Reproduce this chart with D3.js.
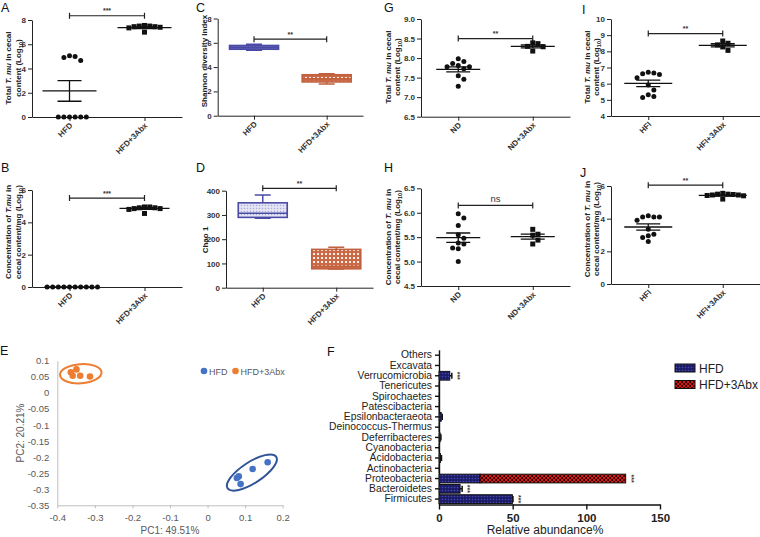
<!DOCTYPE html>
<html><head><meta charset="utf-8">
<script src="https://cdn.jsdelivr.net/npm/d3@7"></script>
<style>body{margin:0;background:#fff}svg{display:block}</style>
</head><body><script>
// ================= DATA =================
const grpHFD = ["HFD", "HFD+3Abx"];
const grpND  = ["ND", "ND+3Abx"];
const grpHFI = ["HFI", "HFI+3Abx"];

// A: total T. mu (HFD vs HFD+3Abx)
const aHFD  = [5.05, 5.0, 4.9, 4.65, 0, 0, 0, 0, 0, 0];
const aAbx  = [7.55, 7.5, 7.5, 7.45, 7.45, 7.4, 7.35, 7.0];
const aMean = [2.15, 7.37], aSem = [0.85, 0.07];
const aTicks = [0, 2, 4, 6, 8];

// B: concentration of T. mu
const bHFD  = [0, 0, 0, 0, 0, 0, 0, 0, 0, 0];
const bAbx  = [4.95, 4.95, 4.9, 4.9, 4.85, 4.85, 4.8, 4.55];
const bMean = [0, 4.86], bSem = [0, 0.05];
const bTicks = [0, 2, 4, 6];

// C: Shannon diversity index  [min, q1, median, q3, max]
const cBox = [[5.38, 5.47, 5.63, 5.78, 5.88], [2.6, 2.78, 3.05, 3.37, 3.45]];
const cTicks = [0, 2, 4, 6, 8];

// D: Chao 1
const dBox = [[286, 290, 307, 350, 382], [77, 78, 88, 158, 167]];
const dTicks = [0, 100, 200, 300, 400];

// G: total T. mu (ND vs ND+3Abx)
const gND   = [7.98, 7.91, 7.86, 7.81, 7.78, 7.78, 7.73, 7.55, 7.46, 7.28];
const gAbx  = [8.39, 8.37, 8.30, 8.29, 8.18];
const gMean = [7.71, 8.30], gSem = [0.065, 0.04];
const gTicks = [6.5, 7.0, 7.5, 8.0, 8.5, 9.0];

// H: concentration (ND)
const hND   = [5.98, 5.89, 5.74, 5.55, 5.48, 5.38, 5.36, 5.28, 5.26, 5.0];
const hAbx  = [5.66, 5.56, 5.54, 5.44, 5.36];
const hMean = [5.49, 5.51], hSem = [0.095, 0.05];
const hTicks = [4.5, 5.0, 5.5, 6.0, 6.5];

// I: total T. mu (HFI)
const iHFI  = [6.70, 6.66, 6.62, 6.56, 6.37, 5.92, 5.61, 5.32, 5.20, 5.15];
const iAbx  = [8.64, 8.5, 8.4, 8.27, 8.06];
const iMean = [6.02, 8.37], iSem = [0.2, 0.1];
const iTicks = [4, 5, 6, 7, 8, 9, 10];

// J: concentration (HFI)
const jHFI  = [4.18, 4.1, 4.1, 4.1, 3.9, 3.35, 3.05, 2.95, 2.85, 2.6];
const jAbx  = [5.55, 5.5, 5.5, 5.48, 5.45, 5.45, 5.42, 5.4, 5.2];
const jMean = [3.49, 5.42], jSem = [0.19, 0.04];
const jTicks = [0, 2, 4, 6];

// E: PCoA
const pcaHFD = [[0.078, -0.265], [0.083, -0.26], [0.088, -0.284], [0.12, -0.237], [0.16, -0.216]];
const pcaAbx = [[-0.364, 0.064], [-0.359, 0.053], [-0.349, 0.073], [-0.339, 0.053], [-0.313, 0.051]];
const pcaCenters = [[-0.3375, 0.0595], [0.118, -0.248]]; // Abx, HFD cluster centres
const eXTicks = [-0.4, -0.3, -0.2, -0.1, 0, 0.1, 0.2];
const eYTicks = [0.1, 0.05, 0, -0.05, -0.1, -0.15, -0.2, -0.25, -0.3, -0.35];

// F: relative abundance (stacked)
const phyla = ["Others", "Excavata", "Verrucomicrobia", "Tenericutes", "Spirochaetes", "Patescibacteria",
  "Epsilonbacteraeota", "Deinococcus-Thermus", "Deferribacteres", "Cyanobacteria", "Acidobacteria",
  "Actinobacteria", "Proteobacteria", "Bacteroidetes", "Firmicutes"];
const fHFD    = [0, 0, 7.3, 0.1, 0.1, 0.1, 1.5, 0.1, 0.8, 0.1, 1.0, 0.2, 27.8, 14.3, 49.8];
const fHFDerr = [0, 0, 1.4, 0, 0, 0, 0.7, 0, 0.5, 0, 0.7, 0, 0, 1.4, 0.4];
const fAbx    = [0, 0, 0, 0, 0, 0, 0, 0, 0, 0, 0, 0, 98.9, 0, 0];
const fSig    = ["", "", "***", "", "", "", "", "", "", "", "", "", "***", "***", "***"];
const fTicks  = [0, 50, 100, 150];

// ================= DRAWING =================
const FONT = "'Liberation Sans', Arial, sans-serif";
const svg = d3.select("body").append("svg").attr("width", 760).attr("height", 537)
  .style("font-family", FONT);

// patterns
const defs = svg.append("defs");
function pat(id, w, draw) {
  const p = defs.append("pattern").attr("id", id).attr("patternUnits", "userSpaceOnUse")
    .attr("width", w).attr("height", w);
  draw(p);
}
pat("hfdDots", 3, p => {
  p.append("rect").attr("width", 3).attr("height", 3).attr("fill", "#1b1b66");
  p.append("circle").attr("cx", 1.5).attr("cy", 1.5).attr("r", 0.8).attr("fill", "#4848b4");
});
pat("abxCheck", 4, p => {
  p.append("rect").attr("width", 4).attr("height", 4).attr("fill", "#d81818");
  p.append("path").attr("d", "M0,0L4,4M4,0L0,4").attr("stroke", "#2a0000").attr("stroke-width", 0.9);
});
pat("boxBlue", 3, p => {
  p.append("rect").attr("width", 3).attr("height", 3).attr("fill", "#e4e4f4");
  p.append("circle").attr("cx", 1.5).attr("cy", 1.5).attr("r", 0.7).attr("fill", "#a8a8d8");
});
pat("boxBlueDark", 3, p => {
  p.append("rect").attr("width", 3).attr("height", 3).attr("fill", "#6262b8");
  p.append("circle").attr("cx", 1.5).attr("cy", 1.5).attr("r", 0.7).attr("fill", "#8a8ad0");
});
pat("boxOrange", 4, p => {
  p.append("rect").attr("width", 4).attr("height", 4).attr("fill", "#cc6a48");
  p.append("rect").attr("x", 1).attr("y", 1).attr("width", 2).attr("height", 2).attr("fill", "#fbeee8");
});

function letter(t, x, y) {
  svg.append("text").attr("x", x).attr("y", y).attr("font-size", 12.5).attr("fill", "#111").text(t);
}

function styleAxis(a, size, weight) {
  a.attr("font-family", FONT).attr("font-size", size).attr("font-weight", weight || "bold");
  a.selectAll("path,line").attr("stroke", "#222").attr("stroke-width", 1);
  a.selectAll("text").attr("fill", "#333");
}

// rotated y title with rich parts: [[text, style], ...]
function yTitle(g, lines, xs, cy, size) {
  lines.forEach((parts, i) => {
    const t = g.append("text").attr("transform", `translate(${xs[i]},${cy}) rotate(-90)`)
      .attr("text-anchor", "middle").attr("font-size", size).attr("font-weight", "bold").attr("fill", "#222");
    parts.forEach(pt => {
      const s = t.append("tspan").text(pt[0]);
      if (pt[1] === "i") s.attr("font-style", "italic");
      if (pt[1] === "sub") s.attr("font-size", size * 0.7).attr("dy", size * 0.3);
      if (pt[1] === "after") s.attr("dy", -size * 0.3);
    });
  });
}

function frame(o) {
  const g = svg.append("g");
  const x = d3.scalePoint().domain(o.cats).range([o.x0, o.x1]).padding(0.5);
  const y = d3.scaleLinear().domain(o.dom).range([o.yb, o.yt]);
  const ya = g.append("g").attr("transform", `translate(${o.x0},0)`)
    .call(d3.axisLeft(y).tickValues(o.ticks).tickFormat(o.fmt || d3.format("d")).tickSize(4).tickSizeOuter(0).tickPadding(2));
  styleAxis(ya, 8);
  const xa = g.append("g").attr("transform", `translate(0,${o.yb})`)
    .call(d3.axisBottom(x).tickSize(4).tickSizeOuter(0));
  styleAxis(xa, 8);
  xa.selectAll("text").attr("x", 0).attr("y", 0).attr("dy", 0)
    .attr("transform", "translate(3,9) rotate(-45)").style("text-anchor", "end");
  // significance bracket
  const sy = y(o.sigVal), xa0 = x(o.cats[0]), xa1 = x(o.cats[1]);
  g.append("path").attr("d", `M${xa0},${sy}H${xa1}M${xa0},${sy - 3}V${sy + 3}M${xa1},${sy - 3}V${sy + 3}`)
    .attr("stroke", "#222").attr("stroke-width", 1.2).attr("fill", "none");
  const ns = o.sigLab === "ns";
  g.append("text").attr("x", (xa0 + xa1) / 2).attr("y", sy - (ns ? 3 : 2.5)).attr("text-anchor", "middle")
    .attr("font-size", ns ? 9.5 : 7).attr("font-weight", ns ? "normal" : "bold").attr("fill", "#333").text(o.sigLab);
  yTitle(g, o.title, o.tx, o.ty, o.tsize || 8);
  letter(o.letter, o.lx, o.ly);
  return { g, x, y };
}

function swarm(vals, y, d) {
  const placed = [];
  const sorted = vals.slice().sort((a, b) => b - a);
  sorted.forEach(v => {
    const py = y(v);
    for (let k = 0; k < 40; k++) {
      const off = (k % 2 ? 1 : -1) * Math.ceil(k / 2) * d;
      if (placed.every(p => Math.hypot(p.x - off, p.y - py) >= d - 0.01)) { placed.push({ x: off, y: py }); break; }
    }
  });
  return placed;
}

function scatterPanel(o) {
  const { g, x, y } = frame(o);
  o.data.forEach((vals, gi) => {
    const cx = x(o.cats[gi]);
    const pts = swarm(vals, y, gi === 0 ? 5.6 : 5.2);
    if (gi === 0) {
      g.selectAll(null).data(pts).join("circle").attr("cx", p => cx + p.x).attr("cy", p => p.y)
        .attr("r", 2.5).attr("fill", "#111");
    } else {
      g.selectAll(null).data(pts).join("rect").attr("x", p => cx + p.x - 2.5).attr("y", p => p.y - 2.5)
        .attr("width", 5).attr("height", 5).attr("fill", "#111");
    }
    const m = y(o.mean[gi]), hi = y(o.mean[gi] + o.sem[gi]), lo = y(o.mean[gi] - o.sem[gi]);
    const hw = o.mhw, cw = o.chw;
    g.append("path").attr("d", `M${cx - hw},${m}H${cx + hw}M${cx},${hi}V${lo}M${cx - cw},${hi}H${cx + cw}M${cx - cw},${lo}H${cx + cw}`)
      .attr("stroke", "#111").attr("stroke-width", 1.3).attr("fill", "none");
  });
}

function boxPanel(o) {
  const { g, x, y } = frame(o);
  const styles = [{ s: "#4b4ba6", f: o.firstFill }, { s: "#c0603c", f: "url(#boxOrange)" }];
  o.box.forEach((b, gi) => {
    const cx = x(o.cats[gi]), st = styles[gi], bw = 24.5, cw = 8;
    g.append("path").attr("d", `M${cx},${y(b[4])}V${y(b[3])}M${cx},${y(b[1])}V${y(b[0])}M${cx - cw},${y(b[4])}H${cx + cw}M${cx - cw},${y(b[0])}H${cx + cw}`)
      .attr("stroke", st.s).attr("stroke-width", 1.5).attr("fill", "none");
    g.append("rect").attr("x", cx - bw).attr("y", y(b[3])).attr("width", 2 * bw).attr("height", y(b[1]) - y(b[3]))
      .attr("fill", st.f).attr("stroke", st.s).attr("stroke-width", 1.6);
    g.append("line").attr("x1", cx - bw).attr("x2", cx + bw).attr("y1", y(b[2])).attr("y2", y(b[2]))
      .attr("stroke", st.s).attr("stroke-width", 1.5);
  });
}

const totalTitle = [[["Total ", ""], ["T. mu", "i"], [" in cecal", ""]], [["content (Log", ""], ["10", "sub"], [")", "after"]]];
const concTitle = (t) => [[["Concentration of ", ""], [t, "i"], [" in", ""]], [["cecal content/mg (Log", ""], ["10", "sub"], [")", "after"]]];
const f1 = d3.format(".1f");

scatterPanel({ letter: "A", lx: 1, ly: 12, x0: 32, x1: 182, yt: 20, yb: 117, dom: [0, 8], ticks: aTicks, cats: grpHFD,
  data: [aHFD, aAbx], mean: aMean, sem: aSem, sigVal: 8.35, sigLab: "***", title: totalTitle, tx: [11, 20.5], ty: 68, mhw: 27, chw: 12 });
scatterPanel({ letter: "B", lx: 1, ly: 172, x0: 32, x1: 182, yt: 190, yb: 287, dom: [0, 6], ticks: bTicks, cats: grpHFD,
  data: [bHFD, bAbx], mean: bMean, sem: bSem, sigVal: 5.5, sigLab: "***", title: concTitle("T.mu"), tx: [11, 20.5], ty: 232, mhw: 25, chw: 12 });
boxPanel({ letter: "C", lx: 196, ly: 12, x0: 217.7, x1: 363, yt: 18.5, yb: 115.7, dom: [0, 8], ticks: cTicks, cats: grpHFD,
  box: cBox, firstFill: "url(#boxBlueDark)", sigVal: 6.3, sigLab: "**", title: [[["Shannon diversity index", ""]]], tx: [206.5], ty: 61 });
boxPanel({ letter: "D", lx: 196, ly: 172, x0: 226, x1: 373, yt: 190.7, yb: 287.7, dom: [0, 400], ticks: dTicks, cats: grpHFD,
  box: dBox, firstFill: "url(#boxBlue)", sigVal: 410, sigLab: "**", title: [[["Chao 1", ""]]], tx: [207.5], ty: 240 });
scatterPanel({ letter: "G", lx: 384, ly: 12, x0: 421, x1: 570, yt: 19, yb: 116.7, dom: [6.5, 9], ticks: gTicks, fmt: f1, cats: grpND,
  data: [gND, gAbx], mean: gMean, sem: gSem, sigVal: 8.5, sigLab: "**", title: totalTitle, tx: [390.5, 400], ty: 67, mhw: 22, chw: 12 });
scatterPanel({ letter: "H", lx: 384, ly: 172, x0: 421, x1: 570, yt: 188.3, yb: 286, dom: [4.5, 6.5], ticks: hTicks, fmt: f1, cats: grpND,
  data: [hND, hAbx], mean: hMean, sem: hSem, sigVal: 6.15, sigLab: "ns", title: concTitle("T. mu"), tx: [390.5, 400], ty: 237, mhw: 22, chw: 12 });
scatterPanel({ letter: "I", lx: 582, ly: 14, x0: 611, x1: 760, yt: 19, yb: 116, dom: [4, 10], ticks: iTicks, cats: grpHFI,
  data: [iHFI, iAbx], mean: iMean, sem: iSem, sigVal: 9.1, sigLab: "**", title: totalTitle, tx: [589.5, 598.5], ty: 67, mhw: 24, chw: 12 });
scatterPanel({ letter: "J", lx: 580, ly: 177, x0: 611, x1: 760, yt: 186, yb: 284, dom: [0, 6], ticks: jTicks, cats: grpHFI,
  data: [jHFI, jAbx], mean: jMean, sem: jSem, sigVal: 6.05, sigLab: "**", title: concTitle("T. mu"), tx: [589.5, 598.5], ty: 229, mhw: 24, chw: 12 });

// ---------- E: PCoA ----------
(function () {
  const g = svg.append("g");
  const x = d3.scaleLinear().domain([-0.4, 0.2]).range([57.3, 282.7]);
  const y = d3.scaleLinear().domain([-0.35, 0.1]).range([505.3, 360.7]);
  const fmt = d => String(Math.round(d * 100) / 100);
  const grey = "#595959";
  const ya = g.append("g").attr("transform", `translate(${x(-0.4)},0)`)
    .call(d3.axisLeft(y).tickValues(eYTicks).tickFormat(fmt).tickSize(0).tickSizeOuter(0).tickPadding(8));
  const xa = g.append("g").attr("transform", `translate(0,${y(-0.35)})`)
    .call(d3.axisBottom(x).tickValues(eXTicks).tickFormat(fmt).tickSize(3).tickSizeOuter(0).tickPadding(6));
  [ya, xa].forEach(a => {
    a.attr("font-family", FONT).attr("font-size", 9.5);
    a.selectAll("path,line").attr("stroke", "#bfbfbf").attr("stroke-width", 1);
    a.selectAll("text").attr("fill", grey);
  });
  const colAbx = "#ed7d31", colHFD = "#4472c4";
  const ell = [{ c: pcaCenters[0], rx: 20.8, ry: 9.6, rot: -4, col: colAbx }, { c: pcaCenters[1], rx: 29, ry: 10.5, rot: -33, col: "#2f5597" }];
  ell.forEach(e => g.append("ellipse").attr("transform", `translate(${x(e.c[0])},${y(e.c[1])}) rotate(${e.rot})`)
    .attr("rx", e.rx).attr("ry", e.ry).attr("fill", "none").attr("stroke", e.col).attr("stroke-width", 2));
  g.selectAll(null).data(pcaAbx).join("circle").attr("cx", d => x(d[0])).attr("cy", d => y(d[1])).attr("r", 3.3).attr("fill", colAbx);
  g.selectAll(null).data(pcaHFD).join("circle").attr("cx", d => x(d[0])).attr("cy", d => y(d[1])).attr("r", 3.3).attr("fill", colHFD);
  // legend
  [["HFD", colHFD, 204], ["HFD+3Abx", colAbx, 235.5]].forEach(l => {
    g.append("circle").attr("cx", l[2]).attr("cy", 371).attr("r", 3.3).attr("fill", l[1]);
    g.append("text").attr("x", l[2] + 5).attr("y", 374.5).attr("font-size", 9).attr("fill", grey).text(l[0]);
  });
  g.append("text").attr("x", 170).attr("y", 533.5).attr("text-anchor", "middle").attr("font-size", 10).attr("fill", grey).text("PC1: 49.51%");
  g.append("text").attr("transform", "translate(24,433) rotate(-90)").attr("text-anchor", "middle").attr("font-size", 10).attr("fill", grey).text("PC2: 20.21%");
  letter("E", 0, 355);
})();

// ---------- F: relative abundance ----------
(function () {
  const g = svg.append("g");
  const y = d3.scaleBand().domain(phyla).range([349.8, 504.5]).paddingInner(0.15).paddingOuter(0.1);
  const x = d3.scaleLinear().domain([0, 150]).range([439, 660]);
  const ya = g.append("g").attr("transform", `translate(${x(0)},0)`)
    .call(d3.axisLeft(y).tickSize(4).tickSizeOuter(0).tickPadding(3));
  ya.attr("font-family", FONT).attr("font-size", 10.3);
  ya.selectAll("path,line").attr("stroke", "#111").attr("stroke-width", 1.4);
  ya.selectAll("text").attr("fill", "#222");
  const xa = g.append("g").attr("transform", `translate(0,${y.range()[1]})`)
    .call(d3.axisBottom(x).tickValues(fTicks).tickSize(5).tickSizeOuter(0).tickPadding(4));
  xa.attr("font-family", FONT).attr("font-size", 11.5).attr("font-weight", "bold");
  xa.selectAll("path,line").attr("stroke", "#111").attr("stroke-width", 1.4);
  xa.selectAll("text").attr("fill", "#222");
  const bh = y.bandwidth();
  phyla.forEach((p, i) => {
    const y0 = y(p);
    if (fHFD[i] > 0) g.append("rect").attr("x", x(0)).attr("y", y0).attr("width", x(fHFD[i]) - x(0)).attr("height", bh)
      .attr("fill", "url(#hfdDots)").attr("stroke", "#111").attr("stroke-width", 1);
    if (fAbx[i] > 0) g.append("rect").attr("x", x(fHFD[i])).attr("y", y0).attr("width", x(fHFD[i] + fAbx[i]) - x(fHFD[i])).attr("height", bh)
      .attr("fill", "url(#abxCheck)").attr("stroke", "#111").attr("stroke-width", 1);
    let end = fHFD[i] + fAbx[i];
    if (fHFDerr[i] > 0) {
      const e = x(fHFD[i] + fHFDerr[i]), cyy = y0 + bh / 2;
      g.append("path").attr("d", `M${x(fHFD[i])},${cyy}H${e}M${e},${cyy - bh * 0.35}V${cyy + bh * 0.35}`)
        .attr("stroke", "#111").attr("stroke-width", 1.5).attr("fill", "none");
      end = Math.max(end, fHFD[i] + fHFDerr[i]);
    }
    if (fSig[i]) g.append("text").attr("transform", `translate(${x(end) + 3},${y0 + bh / 2}) rotate(90)`)
      .attr("text-anchor", "middle").attr("font-size", 7).attr("font-weight", "bold").attr("fill", "#333").text(fSig[i]);
  });
  g.append("text").attr("x", 545).attr("y", 533.5).attr("text-anchor", "middle").attr("font-size", 12).attr("fill", "#222").text("Relative abundance%");
  [["HFD", "url(#hfdDots)", 364], ["HFD+3Abx", "url(#abxCheck)", 380.5]].forEach(l => {
    g.append("rect").attr("x", 675).attr("y", l[2]).attr("width", 20).attr("height", 8).attr("fill", l[1]).attr("stroke", "#111");
    g.append("text").attr("x", 699).attr("y", l[2] + 8.5).attr("font-size", 12).attr("fill", "#222").text(l[0]);
  });
  letter("F", 327, 356);
})();
</script></body></html>
